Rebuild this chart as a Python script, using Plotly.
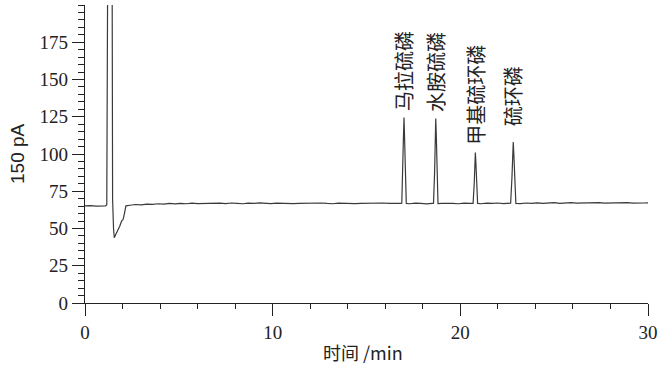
import plotly.graph_objects as go

# Chromatogram samples (time in min, signal in pA)
time_min = [
    0.0, 0.3, 0.6, 0.9, 1.1, 1.16, 1.19, 1.22, 1.44, 1.47, 1.52, 1.56, 1.62, 1.70, 1.77, 1.85, 1.95,
    2.03, 2.10, 2.18, 2.4, 2.7, 3.0, 3.3, 3.6, 3.9, 4.2, 4.5, 4.8, 5.1, 5.4, 5.7, 6.0, 6.3,
    6.6, 6.9, 7.2, 7.5, 7.8, 8.1, 8.4, 8.7, 9.0, 9.3, 9.6, 9.9, 10.2, 10.5, 10.8, 11.1,
    11.4, 11.7, 12.0, 12.3, 12.6, 12.9, 13.2, 13.5, 13.8, 14.1, 14.4, 14.7, 15.0, 15.3,
    15.6, 15.9, 16.2, 16.5, 16.8,
    16.88, 16.94, 16.97, 17.0, 17.03, 17.06, 17.12,
    17.3, 17.6, 17.9, 18.2, 18.5,
    18.57, 18.63, 18.66, 18.69, 18.72, 18.75, 18.81,
    19.0, 19.3, 19.6, 19.9, 20.2, 20.5,
    20.68, 20.74, 20.77, 20.80, 20.83, 20.86, 20.92,
    21.1, 21.4, 21.7, 22.0, 22.3, 22.6,
    22.68, 22.75, 22.79, 22.82, 22.85, 22.89, 22.96,
    23.2, 23.5, 23.8, 24.1, 24.4, 24.7, 25.0, 25.3, 25.6, 25.9, 26.2, 26.5, 26.8, 27.1,
    27.4, 27.7, 28.0, 28.3, 28.6, 28.9, 29.2, 29.5, 29.8, 30.0,
]
signal_pA = [
    65.2, 65.4, 65.0, 65.3, 65.1, 66.0, 260.0, 260.0, 260.0, 70.0, 50.0, 43.8, 45.5, 47.5, 49.0, 51.5, 55.0,
    56.0, 60.0, 65.2, 65.6, 66.1, 65.9, 66.4, 66.2, 66.6, 66.3, 66.8, 66.5, 66.9, 66.6, 67.0, 66.7, 66.9,
    67.1, 66.8, 67.0, 66.7, 67.1, 66.9, 66.6, 67.0, 66.8, 67.2, 66.9, 66.7, 67.0, 66.8, 67.1, 66.7,
    66.9, 67.0, 66.6, 66.9, 67.1, 66.8, 66.6, 67.0, 66.8, 67.1, 66.7, 66.9, 67.0, 66.6,
    66.9, 67.1, 66.8, 66.6, 66.9,
    67.0, 88.0, 112.0, 124.5, 112.0, 88.0, 66.8,
    66.6, 67.0, 66.8, 66.5, 66.9,
    67.0, 88.0, 112.0, 123.8, 112.0, 88.0, 66.7,
    66.9, 67.1, 66.8, 66.6, 67.0, 66.8,
    66.9, 80.0, 94.0, 101.0, 94.0, 80.0, 66.8,
    66.6, 67.0, 66.8, 67.1, 66.7, 66.9,
    67.0, 84.0, 100.0, 108.0, 100.0, 84.0, 66.9,
    66.7, 67.1, 66.9, 67.2, 66.8, 67.0, 67.3, 66.9, 67.1, 67.4, 67.0, 67.2, 66.9, 67.1,
    67.3, 67.0, 67.2, 66.9, 67.2, 67.4, 67.0, 67.3, 67.1, 67.2,
]

# Peak labels
peak_names = ["马拉硫磷", "水胺硫磷", "甲基硫环磷", "硫环磷"]
peak_times = [17.0, 18.69, 20.80, 22.82]
label_centers = [155.8, 154.8, 140.0, 139.0]

x_ticks = [0, 10, 20, 30]
y_ticks = [0, 25, 50, 75, 100, 125, 150, 175]

serif = "Liberation Serif, Times New Roman, Noto Sans CJK SC, serif"
cjk = "Noto Sans CJK SC, Liberation Serif, serif"

fig = go.Figure()
fig.add_trace(go.Scatter(
    x=time_min, y=signal_pA, mode="lines",
    line=dict(color="#3a3a3a", width=1.2),
    showlegend=False, hoverinfo="skip",
))

for name, t, yc in zip(peak_names, peak_times, label_centers):
    fig.add_annotation(
        x=t, y=yc, xref="x", yref="y", text=name, textangle=-90,
        showarrow=False, font=dict(family=cjk, size=20, color="#222222"),
        xanchor="center", yanchor="middle",
    )

fig.add_annotation(
    x=0.5, y=0, xref="paper", yref="paper", yshift=-49, xshift=-4,
    text="时间 /min", showarrow=False, xanchor="center", yanchor="middle",
    font=dict(family=cjk, size=18, color="#222222"),
)
fig.add_annotation(
    x=0, y=0.5, xref="paper", yref="paper", xshift=-68,
    text="150 pA", textangle=-90, showarrow=False, xanchor="center", yanchor="middle",
    font=dict(family="Liberation Sans, Arial, sans-serif", size=19, color="#222222"),
)

axis_common = dict(
    showline=True, linecolor="#222222", linewidth=1.2,
    showgrid=False, zeroline=False, ticks="outside", tickcolor="#222222",
    tickwidth=1.2, ticklen=12,
    tickfont=dict(family=serif, size=19, color="#222222"),
)

fig.update_layout(
    width=663, height=366,
    margin=dict(l=85, r=13, t=5, b=63),
    paper_bgcolor="white", plot_bgcolor="white",
    xaxis=dict(range=[0, 30], tickvals=x_ticks, ticktext=[str(v) for v in x_ticks],
               minor=dict(dtick=2, ticks="outside", ticklen=5, tickcolor="#222222", tickwidth=1),
               **axis_common),
    yaxis=dict(range=[0, 200], tickvals=y_ticks, ticktext=[str(v) for v in y_ticks],
               minor=dict(dtick=5, ticks="outside", ticklen=6, tickcolor="#222222", tickwidth=1),
               **axis_common),
)

fig.write_html("out.html")
